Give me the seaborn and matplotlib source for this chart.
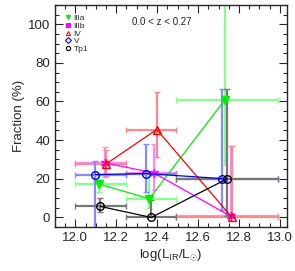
import matplotlib
matplotlib.use("Agg")
import matplotlib.pyplot as plt
from matplotlib.lines import Line2D
from matplotlib.ticker import MultipleLocator
import numpy as np
import pandas as pd
import seaborn as sns

# bin edges in log(L_IR)
bin_lo = [12.0, 12.25, 12.49]
bin_hi = [12.25, 12.49, 12.99]

# fractions per merger stage
lir_IIIa = [12.114, 12.362, 12.732]
frac_IIIa = [17.3, 9.7, 61.0]
lo_IIIa = [13.0, 5.0, 27.3]
hi_IIIa = [22.0, 21.3, 130.0]

lir_IIIb = [12.146, 12.385, 12.761]
frac_IIIb = [28.2, 23.0, 0.5]
lo_IIIb = [21.0, 14.0, 0.0]
hi_IIIb = [36.5, 38.0, 37.0]

lir_IV = [12.151, 12.398, 12.766]
frac_IV = [27.7, 45.5, 0.0]
lo_IV = [21.3, 31.3, 0.0]
hi_IV = [35.0, 65.0, 37.0]

lir_V = [12.098, 12.345, 12.719]
frac_V = [22.2, 22.7, 20.1]
lo_V = [-20.0, 13.3, 3.6]
hi_V = [29.0, 38.2, 66.3]

lir_Tp1 = [12.122, 12.371, 12.743]
frac_Tp1 = [5.7, 0.0, 20.0]
lo_Tp1 = [3.0, 0.0, 0.5]
hi_Tp1 = [10.0, 9.0, 66.3]

groups = [
    ("IIIa", lir_IIIa, frac_IIIa, lo_IIIa, hi_IIIa, "#00ee00", "#88ff88", "v", True),
    ("IIIb", lir_IIIb, frac_IIIb, lo_IIIb, hi_IIIb, "#ff00ff", "#ff88ff", (6, 2, 0), True),
    ("IV", lir_IV, frac_IV, lo_IV, hi_IV, "#ff0000", "#ff8888", "^", False),
    ("V", lir_V, frac_V, lo_V, hi_V, "#0000ff", "#8888ff", "o", False),
    ("Tp1", lir_Tp1, frac_Tp1, lo_Tp1, hi_Tp1, "#000000", "#777777", "o", False),
]

sns.set_style("ticks")
plt.rcParams["font.family"] = ["Liberation Sans", "DejaVu Sans"]
plt.rcParams["mathtext.fontset"] = "custom"
plt.rcParams["mathtext.rm"] = "Liberation Sans"
fig = plt.figure(figsize=(2.95, 2.71), dpi=100)
ax = fig.add_axes([0.186, 0.162, 0.787, 0.820])

for name, x, y, lo, hi, col, ecol, mk, filled in groups:
    x = np.array(x); y = np.array(y)
    xerr = [x - np.array(bin_lo), np.array(bin_hi) - x]
    yerr = [y - np.array(lo), np.array(hi) - y]
    ax.errorbar(x, y, xerr=xerr, yerr=yerr, fmt="none", ecolor=ecol,
                elinewidth=1.6, capsize=2, capthick=1, zorder=2)
    df = pd.DataFrame({"lir": x, "frac": y})
    sns.lineplot(data=df, x="lir", y="frac", ax=ax, color=col, lw=0.9,
                 marker=mk, markersize=5.5 if name != "IIIb" else 6.5,
                 markerfacecolor=col if filled else "none",
                 markeredgecolor=col, markeredgewidth=1.0, zorder=3,
                 sort=False, estimator=None)

# legend
leg_markers = {"IIIa": ("v", True), "IIIb": ("s", True), "IV": ("^", False),
               "V": ("D", False), "Tp1": ("o", False)}
handles = []
for name, x, y, lo, hi, col, ecol, mk, filled in groups:
    m, f = leg_markers[name]
    handles.append(Line2D([], [], ls="none", marker=m, ms=3,
                          mfc=col if f else "none", mec=col, mew=0.8, label=name))
ax.legend(handles=handles, loc="upper left", bbox_to_anchor=(0.02, 0.985),
          frameon=False, fontsize=6, handlelength=0.6, handletextpad=0.4,
          labelspacing=0.0, borderpad=0.2)

ax.text(0.46, 0.923, "0.0 < z < 0.27", transform=ax.transAxes,
        ha="center", va="center", fontsize=7)

ax.set_xlim(11.9, 13.035)
ax.set_ylim(-5, 110)
ax.xaxis.set_major_locator(MultipleLocator(0.2))
ax.xaxis.set_minor_locator(MultipleLocator(0.05))
ax.yaxis.set_major_locator(MultipleLocator(20))
ax.yaxis.set_minor_locator(MultipleLocator(5))
ax.tick_params(which="both", direction="in", top=True, right=True,
               labelsize=9.5, width=0.8)
ax.tick_params(which="major", length=6)
ax.tick_params(which="minor", length=3)
for s in ax.spines.values():
    s.set_linewidth(1.0)
ax.set_xlabel(r"log(L$_{\rm IR}$/L$_{\odot}$)", fontsize=9.5, labelpad=2)
ax.set_ylabel("Fraction (%)", fontsize=9.5, labelpad=2)

fig.savefig("out.png", dpi=100)
